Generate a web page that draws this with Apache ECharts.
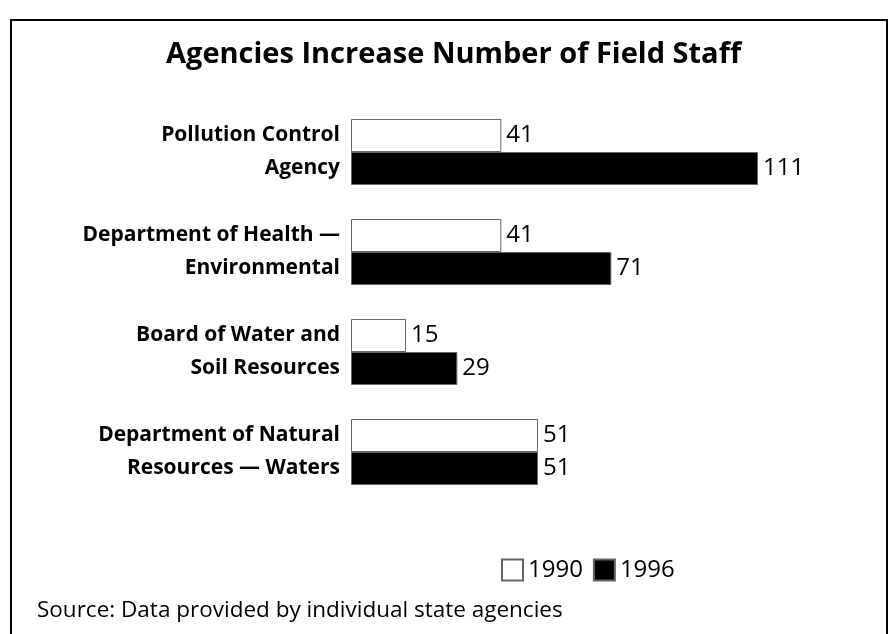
<!DOCTYPE html>
<html>
<head>
<meta charset="utf-8">
<script src="https://cdn.jsdelivr.net/npm/echarts@6/dist/echarts.min.js"></script>
<style>
  html, body { margin: 0; padding: 0; background: #fff; }
  #wrap { position: relative; width: 889px; height: 634px; overflow: hidden; }
  #frame {
    position: absolute; left: 10px; top: 19px; width: 878px; height: 640px;
    border: 2px solid #000; box-sizing: border-box;
  }
  #chart { position: absolute; left: 0; top: 0; width: 889px; height: 634px; }
</style>
</head>
<body>
<div id="wrap">
  <div id="frame"></div>
  <div id="chart"></div>
</div>
<script>
const agencies = [
  'Pollution Control\nAgency',
  'Department of Health —\nEnvironmental',
  'Board of Water and\nSoil Resources',
  'Department of Natural\nResources — Waters'
]
const staff1990 = [41, 41, 15, 51]
const staff1996 = [111, 71, 29, 51]
const years = ['1990', '1996']

const font = '"Open Sans", "Noto Sans", sans-serif'

const chart = echarts.init(document.getElementById('chart'))
chart.setOption({
  animation: false,
  textStyle: { fontFamily: font, color: '#000' },
  title: [
    {
      text: 'Agencies Increase Number of Field Staff',
      left: 161,
      top: 35,
      textStyle: { fontFamily: font, fontSize: 29, fontWeight: 'bold', color: '#000' }
    },
    {
      text: 'Source: Data provided by individual state agencies',
      left: 32,
      top: 594,
      textStyle: { fontFamily: font, fontSize: 22.5, fontWeight: 'normal', color: '#000' }
    }
  ],
  legend: {
    data: years,
    left: 496,
    top: 553,
    icon: 'rect',
    itemWidth: 21,
    itemHeight: 21,
    itemGap: 10,
    textStyle: { fontFamily: font, fontSize: 24, color: '#000', padding: [0, 0, 0, 0] }
  },
  grid: {
    left: 351,
    top: 102,
    width: 440,
    height: 400
  },
  xAxis: {
    type: 'value',
    min: 0,
    max: 120,
    show: false
  },
  yAxis: {
    type: 'category',
    data: agencies,
    inverse: true,
    axisLine: { show: false },
    axisTick: { show: false },
    axisLabel: {
      margin: 11,
      fontFamily: font,
      fontSize: 21,
      fontWeight: 'bold',
      lineHeight: 33,
      color: '#000',
      align: 'right'
    }
  },
  series: [
    {
      name: years[0],
      type: 'bar',
      data: staff1990,
      barWidth: 33,
      barGap: '0%',
      itemStyle: { color: '#fff', borderColor: '#666', borderWidth: 1 },
      label: { show: true, position: 'right', distance: 5, fontFamily: font, fontSize: 24, color: '#000' }
    },
    {
      name: years[1],
      type: 'bar',
      data: staff1996,
      barWidth: 33,
      barGap: '0%',
      itemStyle: { color: '#000', borderColor: '#666', borderWidth: 1 },
      label: { show: true, position: 'right', distance: 5, fontFamily: font, fontSize: 24, color: '#000' }
    }
  ]
})
</script>
</body>
</html>
